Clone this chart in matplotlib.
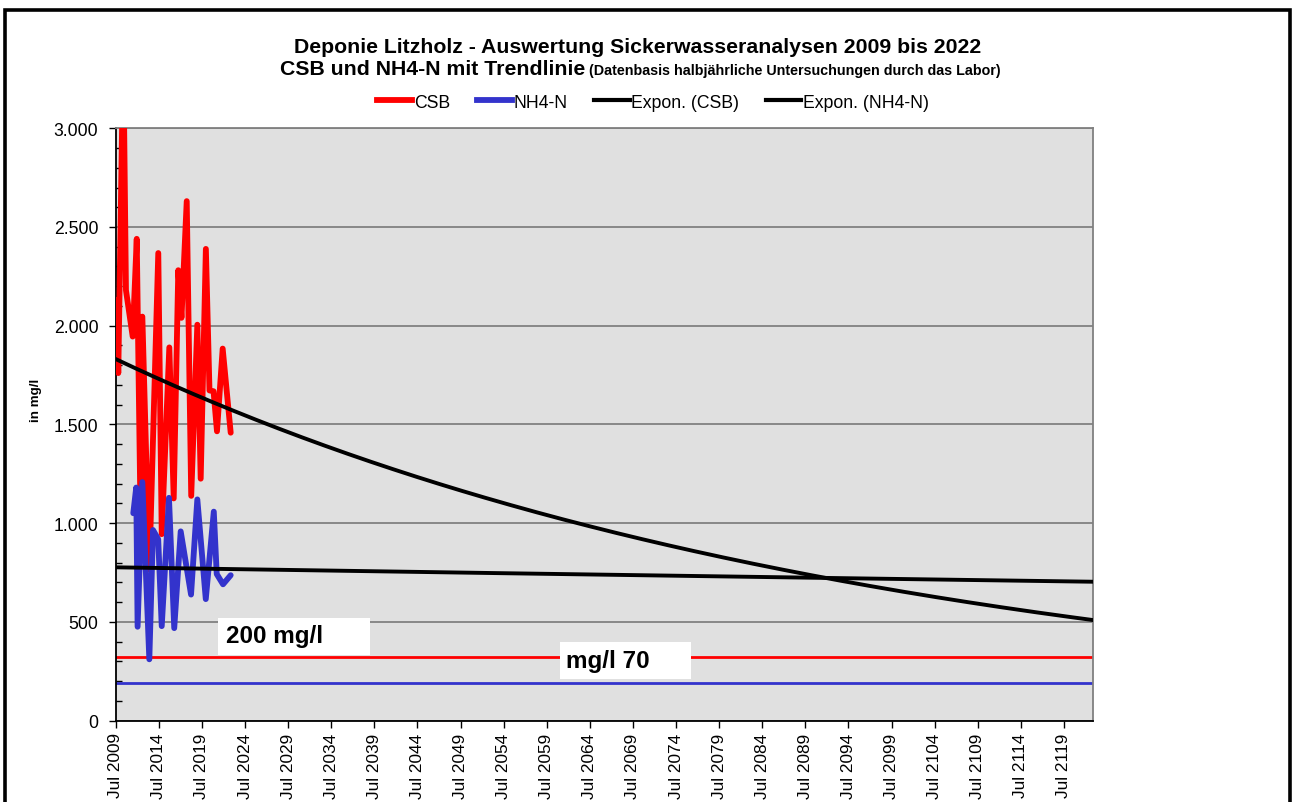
import numpy as np
import matplotlib
matplotlib.use("Agg")
import matplotlib.pyplot as plt
from matplotlib.patches import Rectangle
from matplotlib.lines import Line2D

plt.rcParams['font.family'] = ['Liberation Sans', 'DejaVu Sans']

# Sample dates (decimal years) and values in mg/l
csb_dates = [2009.62, 2009.80, 2010.38, 2010.69, 2011.47, 2011.94, 2012.40, 2012.59,
             2013.40, 2014.44, 2014.84, 2015.72, 2016.23, 2016.76, 2017.13, 2017.74,
             2018.26, 2018.97, 2019.36, 2019.96, 2020.38, 2020.85, 2021.25, 2021.91,
             2022.84]
csb_vals = [2130, 1760, 3400, 2180, 1945, 2440, 975, 2046,
            765, 2368, 944, 1890, 1125, 2281, 2040, 2631,
            1138, 2005, 1225, 2389, 1672, 1668, 1465, 1884,
            1458]

nh4_dates = [2011.54, 2011.88, 2012.04, 2012.59, 2013.40, 2013.83, 2014.43, 2014.84,
             2015.68, 2016.29, 2017.04, 2018.24, 2018.97, 2019.95, 2020.88, 2021.22,
             2021.95, 2022.84]
nh4_vals = [1050, 1180, 475, 1208, 310, 965, 918, 478,
            1128, 468, 958, 638, 1120, 615, 1058, 742,
            690, 736]

# exponential trend lines: value at start and end of the axis
x_start, x_end = 2009.5, 2122.84
csb_trend_ends = [1831, 509]
nh4_trend_ends = [776, 703]

# limit lines
csb_limit = 320
nh4_limit = 188

tick_years = list(range(2009, 2120, 5))
tick_labels = [f"Jul {y}" for y in tick_years]

fig = plt.figure(figsize=(12.95, 8.03), dpi=100)
ax = fig.add_axes([115.7 / 1295, 1 - 721.5 / 803, 977 / 1295, 592.2 / 803])
ax.set_facecolor('#e0e0e0')

# outer frame of the chart
fig.patches.append(Rectangle((4.5 / 1295, -0.05), (1290 - 4.5) / 1295, 1.05 - 11 / 803,
                             transform=fig.transFigure, fill=False, edgecolor='black',
                             linewidth=2.6, zorder=10))

ax.grid(axis='y', color='#707070', linewidth=1.1)
ax.set_axisbelow(True)

ax.axhline(csb_limit, color='#ff0000', linewidth=2.0, zorder=2)
ax.axhline(nh4_limit, color='#3333cc', linewidth=2.0, zorder=2)

ax.plot(csb_dates, csb_vals, color='#ff0000', linewidth=4.2, solid_joinstyle='round',
        solid_capstyle='round', zorder=3)
ax.plot(nh4_dates, nh4_vals, color='#3333cc', linewidth=4.2, solid_joinstyle='round',
        solid_capstyle='round', zorder=3)

tx = np.linspace(x_start, x_end, 300)
frac = (tx - x_start) / (x_end - x_start)
csb_trend = csb_trend_ends[0] * (csb_trend_ends[1] / csb_trend_ends[0]) ** frac
nh4_trend = nh4_trend_ends[0] * (nh4_trend_ends[1] / nh4_trend_ends[0]) ** frac
ax.plot(tx, csb_trend, color='black', linewidth=2.8, zorder=4)
ax.plot(tx, nh4_trend, color='black', linewidth=2.8, zorder=4)

ax.set_xlim(x_start, x_end)
ax.set_ylim(0, 3000)
ax.set_yticks(range(0, 3001, 500))
ax.set_yticklabels([f"{v:,}".replace(',', '.') for v in range(0, 3001, 500)])
ax.set_yticks(range(0, 3001, 100), minor=True)
ax.set_xticks([y + 0.5 for y in tick_years])
ax.set_xticklabels(tick_labels, rotation=90)
ax.tick_params(axis='y', which='major', direction='out', length=5, width=1, labelsize=12.7, pad=7.5)
ax.tick_params(axis='y', which='minor', direction='in', length=4, width=1)
ax.tick_params(axis='x', which='major', direction='out', length=5, width=1, labelsize=12.4, pad=3.5)

for s in ['left', 'bottom']:
    ax.spines[s].set_color('black')
    ax.spines[s].set_linewidth(1.3)
for s in ['right', 'top']:
    ax.spines[s].set_color('#808080')
    ax.spines[s].set_linewidth(1.3)

ax.set_ylabel('in mg/l', fontsize=9.6, fontweight='bold')
ax.yaxis.set_label_coords(-0.0754, 0.543)

# limit labels in white boxes
ax.add_patch(Rectangle((0.105, 0.1111), 0.1553, 0.062, transform=ax.transAxes,
                       facecolor='white', edgecolor='none', zorder=5))
ax.text(0.1125, 0.1427, '200 mg/l', transform=ax.transAxes, fontsize=17.5,
        fontweight='bold', va='center', ha='left', zorder=6)
ax.add_patch(Rectangle((0.4548, 0.0701), 0.1341, 0.0619, transform=ax.transAxes,
                       facecolor='white', edgecolor='none', zorder=5))
ax.text(0.4609, 0.1013, 'mg/l 70', transform=ax.transAxes, fontsize=17.5,
        fontweight='bold', va='center', ha='left', zorder=6)

# titles
fig.text(638 / 1295, 1 - 53.3 / 803, 'Deponie Litzholz - Auswertung Sickerwasseranalysen 2009 bis 2022',
         ha='center', va='baseline', fontsize=15.3, fontweight='bold')
fig.text(585 / 1295, 1 - 75 / 803, 'CSB und NH4-N mit Trendlinie',
         ha='right', va='baseline', fontsize=15.3, fontweight='bold')
fig.text(589 / 1295, 1 - 75 / 803, '(Datenbasis halbjährliche Untersuchungen durch das Labor)',
         ha='left', va='baseline', fontsize=10.3, fontweight='bold')

handles = [Line2D([], [], color='#ff0000', linewidth=4.2),
           Line2D([], [], color='#3333cc', linewidth=4.2),
           Line2D([], [], color='black', linewidth=3),
           Line2D([], [], color='black', linewidth=3)]
fig.legend(handles, ['CSB', 'NH4-N', 'Expon. (CSB)', 'Expon. (NH4-N)'],
           loc='center', bbox_to_anchor=(653 / 1295, 1 - 103 / 803), ncol=4,
           frameon=False, fontsize=12.7, handlelength=2.0, handletextpad=0.1,
           columnspacing=1.5)

fig.savefig('out.png', dpi=100)
